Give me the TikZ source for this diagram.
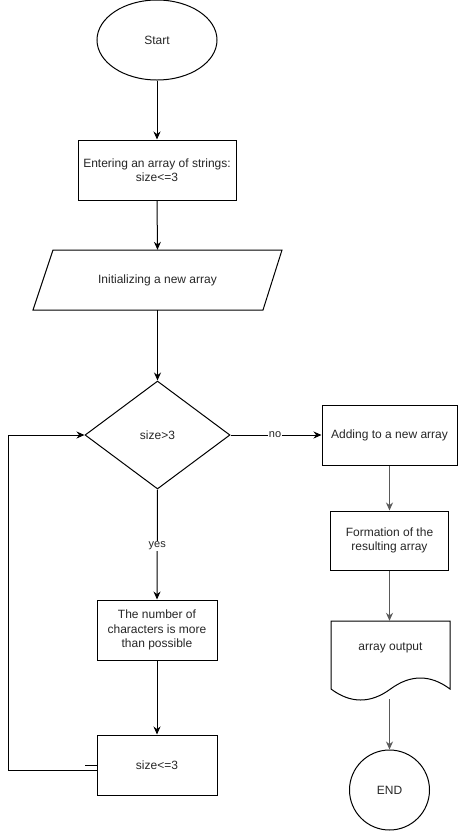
\documentclass[tikz,border=0pt]{standalone}
\usepackage{fontspec}
\setmainfont{Liberation Sans}
\usetikzlibrary{shapes.geometric,arrows.meta}
\begin{document}
\begin{tikzpicture}[x=1pt,y=-1pt,
  every node/.style={font=\fontsize{12}{14.4}\selectfont, text=black!85, align=center, inner sep=0pt},
  box/.style={draw, line width=1pt, rectangle},
  ghost/.style={rectangle},
  arr/.style={line width=1pt, -{Stealth[length=8pt,width=7pt]}},
  softarr/.style={arr, draw=black!65},
  ln/.style={line width=1pt},
  edgelbl/.style={fill=white, font=\fontsize{11}{13}\selectfont, inner sep=1pt}
]
\useasboundingbox (0,0) rectangle (458,831);

% terminals and process boxes
\node[draw, line width=1pt, ellipse, minimum width=120, minimum height=80] (start) at (157,40) {Start};
\node[box, minimum width=158, minimum height=60] (input) at (157,170) {Entering an array of strings:\\size<=3};

% input/output parallelogram
\node[ghost, minimum width=230, minimum height=60] (init) at (157.5,280) {Initializing a new array};
\draw[ln] (53,250) -- (282,250) -- (263,310) -- (33,310) -- cycle;

% decision
\node[draw, line width=1pt, diamond, minimum width=145, minimum height=108] (dec) at (157.5,435) {size>3};

% left branch
\node[box, minimum width=120, minimum height=60] (more) at (157,630) {The number of\\characters is more\\than possible};
\node[box, minimum width=120, minimum height=60] (le) at (157,765) {size<=3};

% right branch
\node[box, minimum width=135, minimum height=60] (add) at (389.5,435) {Adding to a new array};
\node[box, minimum width=118, minimum height=59] (form) at (389.5,540.5) {Formation of the\\resulting array};

% document shape for output
\node[ghost, minimum width=119, minimum height=78] (out) at (389.5,660) {};
\node (outtxt) at (390.5,648) {array output};
\draw[ln] (331,689) -- (331,621) -- (450,621) -- (450,689)
  .. controls (430.33,674.33) and (410.5,674.33) .. (390.5,689)
  .. controls (370.5,703.67) and (350.67,703.67) .. (331,689);

\node[draw, line width=1pt, circle, minimum size=80] (endc) at (389.5,790) {END};

% connectors
\draw[arr] (start.south) -- (input.north);
\draw[arr] (input.south) -- (init.north);
\draw[arr] (init.south) -- (dec.north);
\draw[arr] (dec.south) -- node[edgelbl, pos=0.51] {yes} (more.north);
\draw[arr] (more.south) -- (le.north);
\draw[arr] (dec.east) -- node[edgelbl, pos=0.49] {no} (add.west);
\draw[softarr] (add.south) -- (form.north);
\draw[softarr] (form.south) -- (out.north);
\draw[softarr] (out.south) -- (endc.north);

% loop back to the decision
\coordinate (lj) at (97,770);
\coordinate (stub) at (85,765);
\draw[arr] (lj) -- (8,770) -- (8,435) -- (dec.west);
\draw[ln] (stub) -- (le.west);
\end{tikzpicture}
\end{document}
